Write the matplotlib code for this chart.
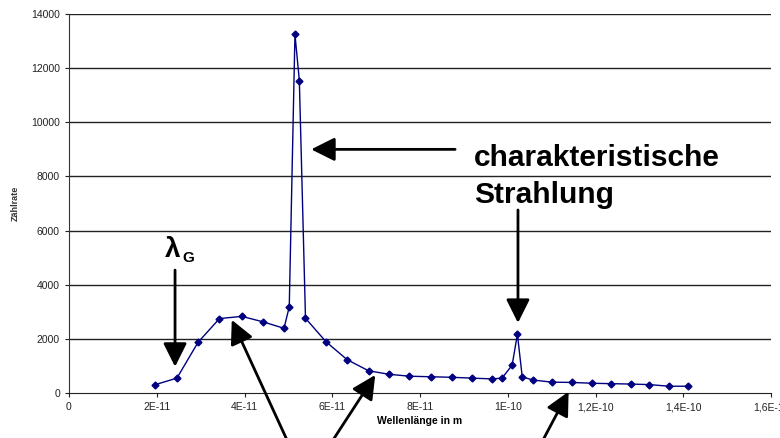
import matplotlib
matplotlib.use('Agg')
import matplotlib.pyplot as plt

plt.rcParams['font.family'] = ['Liberation Sans', 'DejaVu Sans']

# wavelength in m, counts per time
wavelength = [1.95e-11, 2.46e-11, 2.94e-11, 3.43e-11, 3.94e-11, 4.42e-11, 4.90e-11,
              5.02e-11, 5.15e-11, 5.25e-11, 5.39e-11, 5.86e-11, 6.34e-11, 6.83e-11,
              7.30e-11, 7.76e-11, 8.25e-11, 8.73e-11, 9.18e-11, 9.65e-11, 9.87e-11,
              1.010e-10, 1.022e-10, 1.033e-10, 1.057e-10, 1.101e-10, 1.147e-10,
              1.192e-10, 1.236e-10, 1.281e-10, 1.323e-10, 1.368e-10, 1.410e-10]
counts = [300, 550, 1870, 2750, 2830, 2630, 2390,
          3180, 13250, 11540, 2760, 1890, 1230, 820,
          690, 620, 600, 580, 550, 520, 550,
          1030, 2170, 600, 480, 400, 390,
          360, 345, 330, 310, 250, 250]

xticks = [0, 2e-11, 4e-11, 6e-11, 8e-11, 1e-10, 1.2e-10, 1.4e-10, 1.6e-10]
xtick_labels = ['0', '2E-11', '4E-11', '6E-11', '8E-11', '1E-10', '1,2E-10', '1,4E-10', '1,6E-10']
yticks = [0, 2000, 4000, 6000, 8000, 10000, 12000, 14000]

fig = plt.figure(figsize=(7.8, 4.38), dpi=100)
ax = fig.add_axes([69 / 780, 1 - 393 / 438, (771 - 69) / 780, (393 - 14) / 438])

for y in yticks[1:]:
    ax.axhline(y, color='#222222', lw=1.0, zorder=1)

ax.plot(wavelength, counts, color='#000080', lw=1.0, marker='D', markersize=3.5,
        markerfacecolor='#000080', markeredgecolor='#000080', zorder=3)

ax.set_xlim(0, 1.6e-10)
ax.set_ylim(0, 14000)
ax.set_xticks(xticks)
ax.set_xticklabels(xtick_labels)
ax.set_yticks(yticks)
ax.tick_params(labelsize=7.5, colors='#222222', length=3, width=0.8)
for side in ['top', 'right']:
    ax.spines[side].set_visible(False)
ax.spines['left'].set_color('#333333')
ax.spines['bottom'].set_color('#222222')
ax.set_xlabel('Wellenlänge in m', fontsize=7.5, fontweight='bold', labelpad=3)
ax.set_ylabel('Zählrate', fontsize=6.5, fontweight='bold', color='#333333', labelpad=8)

arrow = dict(arrowstyle='-|>,head_length=0.9,head_width=0.45', lw=2, color='black',
             mutation_scale=16, shrinkA=0, shrinkB=0)

# lambda_G
ax.annotate('', xy=(2.417e-11, 970), xytext=(2.417e-11, 4540), arrowprops=arrow)
fig.text(165, 438 - 257, 'λ', fontsize=20, fontweight='bold', va='baseline',
         transform=None)
fig.text(182, 438 - 262, 'G', fontsize=11, fontweight='bold', va='baseline',
         transform=None)

# charakteristische Strahlung
ax.annotate('', xy=(5.52e-11, 9000), xytext=(8.80e-11, 9000), arrowprops=arrow)
ax.annotate('', xy=(1.0233e-10, 2590), xytext=(1.0233e-10, 6760), arrowprops=arrow)
fig.text(474, 438 - 166, 'charakteristische', fontsize=21.5, fontweight='bold',
         va='baseline', transform=None)
fig.text(474, 438 - 203, 'Strahlung', fontsize=21.5, fontweight='bold',
         va='baseline', transform=None)

# Bremsstrahlung arrows from below
for tip, tail_x in [((3.71e-11, 2700), 287), ((6.98e-11, 665), 333), ((1.1387e-10, 50), 543)]:
    ax.annotate('', xy=tip, xycoords='data', xytext=(tail_x, -2),
                textcoords='figure pixels', arrowprops=arrow, annotation_clip=False)

fig.savefig('out.png', dpi=100)
